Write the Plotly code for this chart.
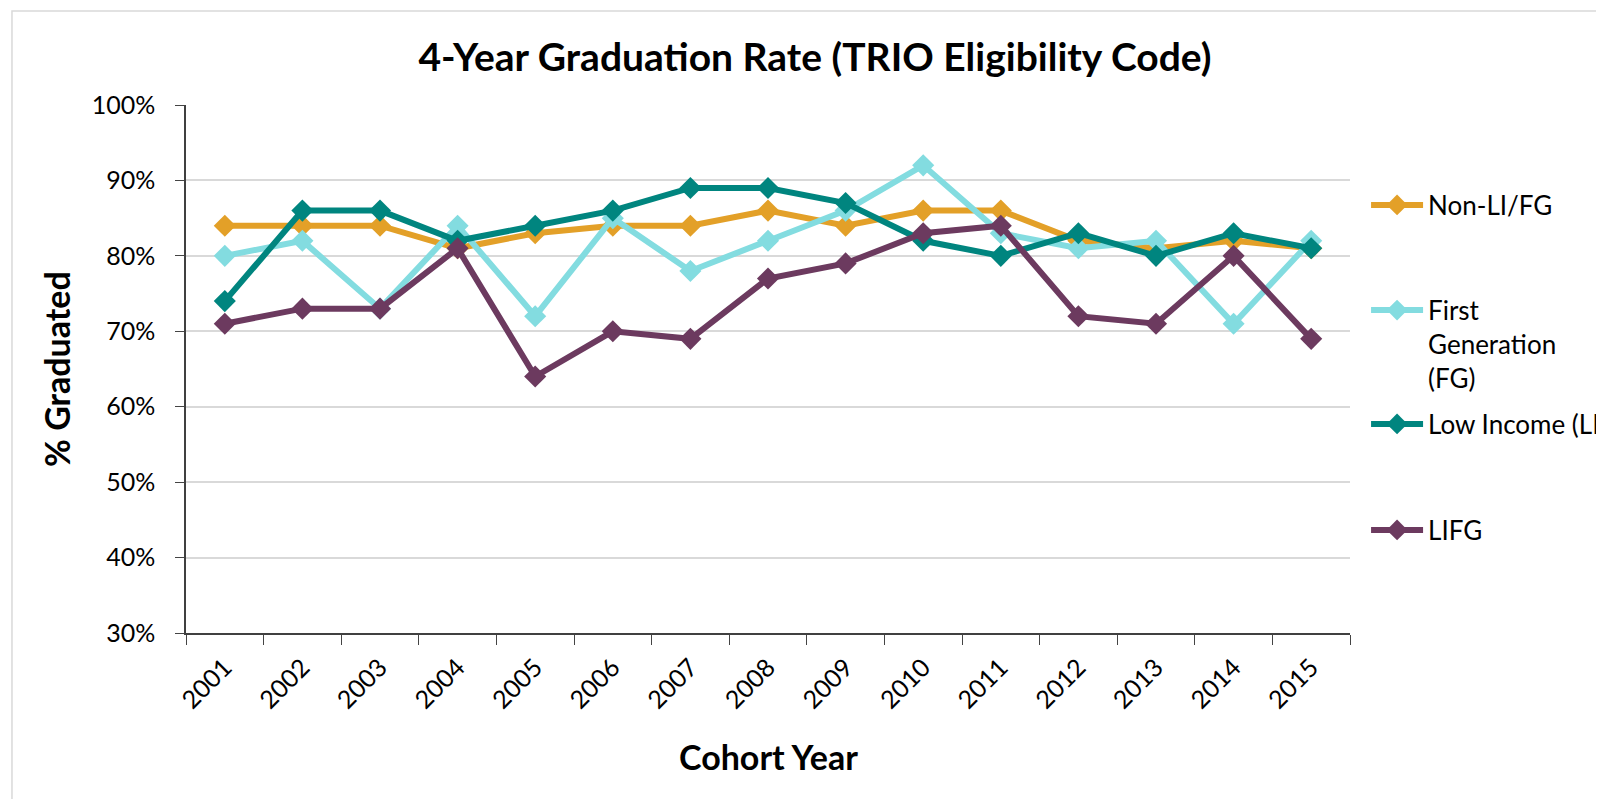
import plotly.graph_objects as go

years = [str(y) for y in range(2001, 2016)]
non_li_fg = [84, 84, 84, 81, 83, 84, 84, 86, 84, 86, 86, 82, 81, 82, 81]
first_gen = [80, 82, 73, 84, 72, 85, 78, 82, 86, 92, 83, 81, 82, 71, 82]
low_income = [74, 86, 86, 82, 84, 86, 89, 89, 87, 82, 80, 83, 80, 83, 81]
lifg = [71, 73, 73, 81, 64, 70, 69, 77, 79, 83, 84, 72, 71, 80, 69]

series_names = ["Non-LI/FG", "First<br>Generation<br>(FG)", "Low Income (LI)", "LIFG"]
series_values = [non_li_fg, first_gen, low_income, lifg]
colors = ["#E3A028", "#83DCE0", "#00857F", "#6C3A5F"]
legend_y = [0.8106, 0.547, 0.3958, 0.195]

FONT = "Lato, 'Open Sans', sans-serif"
W, H = 1596, 791
L, R, T, B = 178, 254, 97, 166

fig = go.Figure()
legend_ids = ["legend", "legend2", "legend3", "legend4"]
for i, (name, vals, color) in enumerate(zip(series_names, series_values, colors)):
    fig.add_trace(go.Scatter(
        x=years, y=[v / 100 for v in vals], name=name, mode="lines+markers",
        line=dict(color=color, width=6),
        marker=dict(symbol="diamond", size=17, color=color),
        legend=legend_ids[i],
    ))

legend_common = dict(x=1.0138, xanchor="left", yanchor="middle",
                     font=dict(size=26, family=FONT, color="black"),
                     valign="top", itemwidth=52, bgcolor="rgba(0,0,0,0)")

layout_legends = {}
for i, lid in enumerate(legend_ids):
    layout_legends[lid] = dict(legend_common, y=legend_y[i])

fig.update_layout(
    width=W, height=H,
    margin=dict(l=L, r=R, t=T, b=B, autoexpand=False),
    plot_bgcolor="white", paper_bgcolor="white",
    font=dict(family=FONT, size=25, color="black"),
    title=dict(text="<b>4-Year Graduation Rate (TRIO Eligibility Code)</b>",
               x=0.5056, xanchor="center", y=0.938, yanchor="middle",
               font=dict(size=39, family=FONT)),
    showlegend=True,
    xaxis=dict(type="category", range=[-0.5, 14.5], tickangle=-45,
               ticks="outside", ticklen=10, tickson="boundaries",
               showline=True, linecolor="#404040", linewidth=2,
               showgrid=False, automargin=False, ticklabelstandoff=8,
               tickfont=dict(size=25, family=FONT)),
    yaxis=dict(range=[0.3, 1.0], dtick=0.1, tickformat=".0%",
               ticks="outside", ticklen=9, showline=True, linecolor="#404040", linewidth=1.5,
               showgrid=True, gridcolor="#D9D9D9", gridwidth=2,
               zeroline=False, automargin=False, ticklabelstandoff=15,
               tickfont=dict(size=25, family=FONT)),
    **layout_legends,
)

fig.add_annotation(text="<b>Cohort Year</b>", xref="paper", yref="paper",
                   x=0.5, y=-0.2348, xanchor="center", yanchor="middle",
                   showarrow=False, font=dict(size=34, family=FONT))
fig.add_annotation(text="<b>% Graduated</b>", xref="paper", yref="paper",
                   x=-0.1117, y=0.5, xanchor="center", yanchor="middle", textangle=-90,
                   showarrow=False, font=dict(size=34, family=FONT))

fig.add_shape(type="rect", xref="paper", yref="paper",
              x0=-0.1495, x1=1.25, y0=-0.35, y1=1.178,
              line=dict(color="#D9D9D9", width=1.5), fillcolor="rgba(0,0,0,0)", layer="below")

fig.write_html("out.html")
